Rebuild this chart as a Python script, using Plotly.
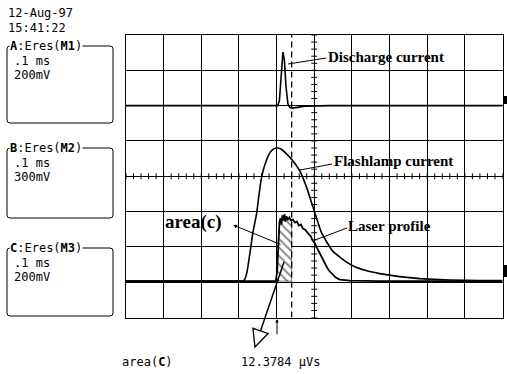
import numpy as np
import plotly.graph_objects as go

# ---------------- data (time in ms, amplitude in mV) ----------------
time_a = [0.000, 0.100, 0.196, 0.300, 0.356, 0.395, 0.403, 0.4075, 0.4115, 0.4168, 0.4208,
          0.4247, 0.430, 0.4353, 0.4433, 0.4539, 0.4646, 0.4752, 0.5416, 0.6212, 0.7274, 0.8866, 1.000]
discharge_mv = [0, 0, 0, 3, 0, 0, 0, 28, 170, 303, 256,
                114, 11, -11, -14, -11, -6, -3, 0, 0, 3, 0, 0]

time_b = [0.000, 0.150, 0.300, 0.3106, 0.316, 0.321, 0.329, 0.337, 0.347, 0.353, 0.360, 0.373,
          0.385, 0.396, 0.403, 0.4115, 0.425, 0.441, 0.452, 0.462, 0.4805, 0.502, 0.520,
          0.549, 0.581, 0.608, 0.640, 0.674, 0.727, 0.780, 0.860, 0.940, 1.000]
flashlamp_mv = [0, 0, 0, 0, 20, 72, 234, 413, 575, 728, 882, 1027,
                1103, 1129, 1131, 1122, 1085, 1030, 985, 935, 790, 575, 405,
                255, 172, 122, 88, 64, 38, 21, 9, 4, 4]

time_c = [0.000, 0.200, 0.398, 0.4015, 0.4047, 0.4075, 0.410, 0.413, 0.4155, 0.418, 0.421,
          0.423, 0.426, 0.430, 0.434, 0.438, 0.443, 0.449, 0.454, 0.459, 0.465, 0.470,
          0.475, 0.480, 0.486, 0.491, 0.496, 0.502, 0.507, 0.512, 0.518, 0.523, 0.528,
          0.534, 0.539, 0.544, 0.549, 0.557, 0.568, 0.595, 0.674, 0.800, 1.000]
laser_mv = [0, 0, 0, 60, 230, 332, 355, 321, 372, 344, 378,
            338, 366, 349, 361, 344, 349, 332, 338, 315, 321, 298,
            293, 281, 270, 253, 230, 213, 190, 168, 139, 116, 94,
            77, 60, 48, 37, 20, 9, 3, 0, 0, 0]

# channel settings: (mV per division, baseline offset in divisions)
chan_a = (200, 2.0)
chan_b = (300, -2.97)
chan_c = (200, -2.97)

cursor_start_ms = 0.40
cursor_end_ms = 0.44

left_lines = ["12-Aug-97", "15:41:22"]
box_titles = ["<b>A</b>:Eres(<b>M1</b>)", "<b>B</b>:Eres(<b>M2</b>)", "<b>C</b>:Eres(<b>M3</b>)"]
box_time = [".1 ms", ".1 ms", ".1 ms"]
box_volt = ["200mV", "300mV", "200mV"]
area_label = "area(<b>C</b>)"
area_value = "12.3784 µVs"

# ---------------- layout helpers ----------------
W, H = 507, 374
PL, PR, PT, PB = 126, 502.5, 35, 317.5


def X(px):
    return px / W


def Y(py):
    return 1 - py / H


def to_div(vals, chan):
    scale, off = chan
    return [v / scale + off for v in vals]


fig = go.Figure()

# hatched integration area under the laser trace
tc = np.array(time_c)
lc = np.array(to_div(laser_mv, chan_c))
mask = (tc >= cursor_start_ms) & (tc <= cursor_end_ms)
hx = [cursor_start_ms] + list(tc[mask]) + [cursor_end_ms, cursor_end_ms, cursor_start_ms]
hy = [float(np.interp(cursor_start_ms, tc, lc))] + list(lc[mask]) + \
     [float(np.interp(cursor_end_ms, tc, lc)), chan_c[1], chan_c[1]]
fig.add_trace(go.Scatter(x=hx, y=hy, mode="lines", fill="toself",
                         fillcolor="white",
                         fillpattern=dict(shape="\\", fgcolor="black", bgcolor="white",
                                          size=6, solidity=0.3),
                         line=dict(color="black", width=0.5), hoverinfo="skip"))

# minor ticks on the centre cross
mx, my = [], []
for k in range(-20, 21):
    yv = k * 0.2
    mx += [0.5 - 0.008, 0.5 + 0.008, None]
    my += [yv, yv, None]
for k in range(0, 51):
    xv = k * 0.02
    mx += [xv, xv, None]
    my += [-0.085, 0.085, None]
fig.add_trace(go.Scatter(x=mx, y=my, mode="lines", line=dict(color="black", width=1),
                         hoverinfo="skip"))

# cursor
fig.add_trace(go.Scatter(x=[cursor_end_ms, cursor_end_ms], y=[-4, 4], mode="lines",
                         line=dict(color="black", width=1.3, dash="6px,4px"), hoverinfo="skip"))

# traces
fig.add_trace(go.Scatter(x=time_b, y=to_div(flashlamp_mv, chan_b), mode="lines",
                         line=dict(color="black", width=1.6, shape="spline", smoothing=0.4)))
fig.add_trace(go.Scatter(x=time_c, y=to_div(laser_mv, chan_c), mode="lines",
                         line=dict(color="black", width=1.8)))
fig.add_trace(go.Scatter(x=time_a, y=to_div(discharge_mv, chan_a), mode="lines",
                         line=dict(color="black", width=1.6)))

shapes = []
annotations = []

mono = dict(family="DejaVu Sans Mono", size=12, color="black")
serif = dict(family="Liberation Serif", size=15, color="black")


def txt(s, px, py, font, xanchor="left", bg=None):
    d = dict(text=s, x=X(px), y=Y(py), xref="paper", yref="paper", showarrow=False,
             xanchor=xanchor, yanchor="middle", font=font, borderpad=0)
    if bg:
        d["bgcolor"] = bg
    annotations.append(d)


def line(p0, p1, w=1.0):
    shapes.append(dict(type="line", xref="paper", yref="paper", x0=X(p0[0]), y0=Y(p0[1]),
                       x1=X(p1[0]), y1=Y(p1[1]), line=dict(color="black", width=w)))


# date / time
txt(left_lines[0], 7, 13, mono)
txt(left_lines[1], 7, 28, mono)

# channel boxes
box_tops = [46, 148, 248]
box_bottoms = [123, 218, 316]
for i in range(3):
    t, b = box_tops[i], box_bottoms[i]
    l, r, rad = 7, 113, 3
    path = (f"M {X(l)},{Y(t + rad)} L {X(l)},{Y(b - rad)} Q {X(l)},{Y(b)} {X(l + rad)},{Y(b)} "
            f"L {X(r - rad)},{Y(b)} Q {X(r)},{Y(b)} {X(r)},{Y(b - rad)} "
            f"L {X(r)},{Y(t + rad)} Q {X(r)},{Y(t)} {X(r - rad)},{Y(t)} "
            f"L {X(l + rad)},{Y(t)} Q {X(l)},{Y(t)} {X(l)},{Y(t + rad)} Z")
    shapes.append(dict(type="path", path=path, xref="paper", yref="paper",
                       line=dict(color="black", width=1)))
    txt(box_titles[i], 9, t, mono, bg="white")
    txt(box_time[i], 13, t + 15, mono)
    txt(box_volt[i], 13, t + 29, mono)

# bottom readout
txt(area_label, 121, 362, mono)
txt(area_value, 240, 362, mono)

# labels with leader lines
txt("<b>Discharge current</b>", 327, 57, serif)
line((288, 64), (326, 58))
txt("<b>Flashlamp current</b>", 333, 161, serif)
line((300, 170), (332, 164))
txt("<b>Laser profile</b>", 347, 226, serif)
line((315, 240), (347, 228))
txt("<b>area(c)</b>", 164, 222, dict(family="Liberation Serif", size=19, color="black"))
annotations.append(dict(x=X(233), y=Y(225), xref="paper", yref="paper", text="",
                        showarrow=True, ax=49, ay=20, arrowhead=2, arrowsize=0.8,
                        arrowwidth=1, arrowcolor="black"))

# big hollow arrow
line((284, 262), (260.5, 331), 1.5)
shapes.append(dict(type="path", xref="paper", yref="paper",
                   path=f"M {X(255)},{Y(347)} L {X(252.9)},{Y(328.3)} L {X(268.1)},{Y(333.5)} Z",
                   fillcolor="white", line=dict(color="black", width=1.3)))

# small cursor arrow below the grid
annotations.append(dict(x=X(277), y=Y(319), xref="paper", yref="paper", text="",
                        showarrow=True, ax=0, ay=17, arrowhead=2, arrowsize=0.7,
                        arrowwidth=1, arrowcolor="black"))

# channel markers at the right edge
shapes.append(dict(type="rect", xref="paper", yref="paper", x0=X(504), x1=X(507),
                   y0=Y(96), y1=Y(104), fillcolor="black", line=dict(width=0)))
shapes.append(dict(type="rect", xref="paper", yref="paper", x0=X(504), x1=X(507),
                   y0=Y(265), y1=Y(277), fillcolor="black", line=dict(width=0)))

fig.update_layout(
    width=W, height=H, margin=dict(l=0, r=0, t=0, b=0),
    paper_bgcolor="white", plot_bgcolor="white", showlegend=False,
    shapes=shapes, annotations=annotations,
    xaxis=dict(domain=[X(PL), X(PR)], range=[0, 1], dtick=0.1, tick0=0,
               showgrid=True, gridcolor="black", gridwidth=1,
               zeroline=False, showline=True, mirror=True, linecolor="black", linewidth=1.5,
               showticklabels=False, ticks="", fixedrange=True),
    yaxis=dict(domain=[Y(PB), Y(PT)], range=[-4, 4], dtick=1, tick0=0,
               showgrid=True, gridcolor="black", gridwidth=1,
               zeroline=True, zerolinecolor="black", zerolinewidth=1,
               showline=True, mirror=True, linecolor="black", linewidth=1.5,
               showticklabels=False, ticks="", fixedrange=True),
)

fig.write_html("out.html", config={"displayModeBar": False, "staticPlot": True},
               post_script="document.body.style.margin='0';document.body.style.overflow='hidden';")
